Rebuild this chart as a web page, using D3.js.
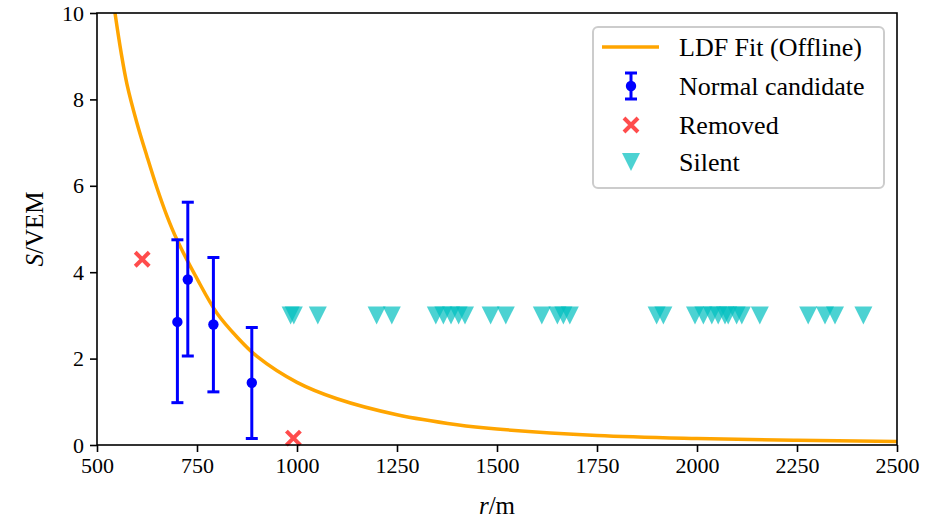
<!DOCTYPE html>
<html>
<head>
<meta charset="utf-8">
<script src="https://cdn.jsdelivr.net/npm/d3@7"></script>
<style>
  body { margin: 0; background: #fff; }
  svg text { font-family: "Liberation Serif", "DejaVu Serif", serif; fill: #000; }
</style>
</head>
<body>
<div id="vis"></div>
<script>
// Data
const fitR = [545, 560, 575, 600, 625, 650, 675, 700, 750, 800, 850, 900, 1000, 1100, 1250, 1400, 1500, 1750, 2000, 2250, 2500];
const fitS = [10.0, 9.1, 8.35, 7.45, 6.68, 5.95, 5.3, 4.75, 3.85, 3.05, 2.5, 2.05, 1.45, 1.07, 0.7, 0.47, 0.37, 0.22, 0.15, 0.11, 0.08];

const normalR = [701, 727, 791, 887];
const normalS = [2.85, 3.83, 2.79, 1.44];
const normalLo = [0.98, 2.06, 1.23, 0.15];
const normalHi = [4.75, 5.62, 4.34, 2.72];

const removedR = [613, 991];
const removedS = [4.30, 0.16];

const silentR = [984, 992, 1052, 1199, 1237, 1347, 1366, 1385, 1404, 1420, 1484, 1522,
  1612, 1651, 1666, 1682, 1899, 1916, 1995, 2016, 2037, 2053, 2070, 2078, 2099, 2112,
  2157, 2278, 2320, 2345, 2416];
const silentS = 3.0;

const xTicks = [500, 750, 1000, 1250, 1500, 1750, 2000, 2250, 2500];
const yTicks = [0, 2, 4, 6, 8, 10];

const W = 925, H = 523;
const margin = { top: 13, right: 28, bottom: 78, left: 97 };
const width = W - margin.left - margin.right;
const height = H - margin.top - margin.bottom;

const svg = d3.select("#vis").append("svg")
    .attr("width", W)
    .attr("height", H);

const g = svg.append("g")
    .attr("transform", "translate(" + margin.left + "," + margin.top + ")");

const x = d3.scaleLinear().domain([500, 2500]).range([0, width]);
const y = d3.scaleLinear().domain([0, 10]).range([height, 0]);

// clip for the fit line
svg.append("defs").append("clipPath").attr("id", "clip")
  .append("rect").attr("width", width).attr("height", height);

// LDF fit
const fitData = fitR.map((r, i) => ({ r: r, s: fitS[i] }));
g.append("path")
    .datum(fitData)
    .attr("clip-path", "url(#clip)")
    .attr("fill", "none")
    .attr("stroke", "#ffa500")
    .attr("stroke-width", 3.5)
    .attr("d", d3.line().x(d => x(d.r)).y(d => y(d.s)).curve(d3.curveCatmullRom));

// silent triangles
const tri = (cx, cy, s) => `M${cx - s / 2},${cy - s / 2}L${cx + s / 2},${cy - s / 2}L${cx},${cy + s / 2}Z`;
g.selectAll(".silent")
  .data(silentR)
  .join("path")
    .attr("class", "silent")
    .attr("d", d => tri(x(d), y(silentS), 18))
    .attr("fill", "#00bfbf")
    .attr("fill-opacity", 0.7);

// removed crosses
const cross = (cx, cy, s) => `M${cx - s},${cy - s}L${cx + s},${cy + s}M${cx - s},${cy + s}L${cx + s},${cy - s}`;
g.selectAll(".removed")
  .data(removedR)
  .join("path")
    .attr("class", "removed")
    .attr("d", (d, i) => cross(x(d), y(removedS[i]), 7))
    .attr("stroke", "#ff0000")
    .attr("stroke-opacity", 0.7)
    .attr("stroke-width", 4);

// normal candidates with error bars
const normal = normalR.map((r, i) => ({ r: r, s: normalS[i], lo: normalLo[i], hi: normalHi[i] }));
const eb = g.selectAll(".normal").data(normal).join("g").attr("class", "normal");
eb.append("line")
    .attr("x1", d => x(d.r)).attr("x2", d => x(d.r))
    .attr("y1", d => y(d.lo)).attr("y2", d => y(d.hi))
    .attr("stroke", "#0000ff").attr("stroke-width", 3);
eb.selectAll(".cap").data(d => [[d.r, d.lo], [d.r, d.hi]]).join("line")
    .attr("x1", d => x(d[0]) - 6).attr("x2", d => x(d[0]) + 6)
    .attr("y1", d => y(d[1])).attr("y2", d => y(d[1]))
    .attr("stroke", "#0000ff").attr("stroke-width", 3);
eb.append("circle")
    .attr("cx", d => x(d.r)).attr("cy", d => y(d.s))
    .attr("r", 5.2)
    .attr("fill", "#0000ff");

// axes
const xAxis = d3.axisBottom(x).tickValues(xTicks).tickFormat(d3.format("d")).tickSize(7).tickPadding(5);
const yAxis = d3.axisLeft(y).tickValues(yTicks).tickFormat(d3.format("d")).tickSize(7).tickPadding(6);

const gx = g.append("g")
    .attr("transform", `translate(0, ${height})`)
    .call(xAxis);
const gy = g.append("g").call(yAxis);

[gx, gy].forEach(a => {
  a.select(".domain").remove();
  a.selectAll(".tick line").attr("stroke", "#000").attr("stroke-width", 1.6);
  a.selectAll(".tick text").style("font-size", "22px").attr("fill", "#000");
});

// frame
g.append("rect")
    .attr("width", width).attr("height", height)
    .attr("fill", "none")
    .attr("stroke", "#000")
    .attr("stroke-width", 1.6);

// axis labels
const xl = svg.append("text")
    .attr("x", margin.left + width / 2)
    .attr("y", 514)
    .attr("text-anchor", "middle")
    .style("font-size", "25px");
xl.append("tspan").style("font-style", "italic").text("r");
xl.append("tspan").text("/m");

const yl = svg.append("text")
    .attr("transform", `translate(43, ${margin.top + height / 2}) rotate(-90)`)
    .attr("text-anchor", "middle")
    .style("font-size", "25px");
yl.append("tspan").style("font-style", "italic").text("S");
yl.append("tspan").text("/VEM");

// legend
const lg = svg.append("g");
lg.append("rect")
    .attr("x", 593).attr("y", 27)
    .attr("width", 291).attr("height", 161)
    .attr("rx", 5)
    .attr("fill", "#fff").attr("fill-opacity", 0.8)
    .attr("stroke", "#cccccc").attr("stroke-width", 2);

const rows = ["LDF Fit (Offline)", "Normal candidate", "Removed", "Silent"];
const rowY = [47, 86, 125, 162];
lg.selectAll(".lt").data(rows).join("text")
    .attr("x", 679)
    .attr("y", (d, i) => rowY[i])
    .attr("dy", "0.35em")
    .style("font-size", "26px")
    .text(d => d);

lg.append("line")
    .attr("x1", 602).attr("x2", 659).attr("y1", rowY[0]).attr("y2", rowY[0])
    .attr("stroke", "#ffa500").attr("stroke-width", 3.5);
lg.append("line")
    .attr("x1", 631).attr("x2", 631).attr("y1", rowY[1] - 13).attr("y2", rowY[1] + 13)
    .attr("stroke", "#0000ff").attr("stroke-width", 3);
[rowY[1] - 13, rowY[1] + 13].forEach(cy => {
  lg.append("line")
    .attr("x1", 625).attr("x2", 637).attr("y1", cy).attr("y2", cy)
    .attr("stroke", "#0000ff").attr("stroke-width", 3);
});
lg.append("circle").attr("cx", 631).attr("cy", rowY[1]).attr("r", 5.2).attr("fill", "#0000ff");
lg.append("path")
    .attr("d", cross(631, rowY[2], 7))
    .attr("stroke", "#ff0000").attr("stroke-opacity", 0.7).attr("stroke-width", 4);
lg.append("path")
    .attr("d", tri(631, rowY[3], 18))
    .attr("fill", "#00bfbf").attr("fill-opacity", 0.7);
</script>
</body>
</html>
